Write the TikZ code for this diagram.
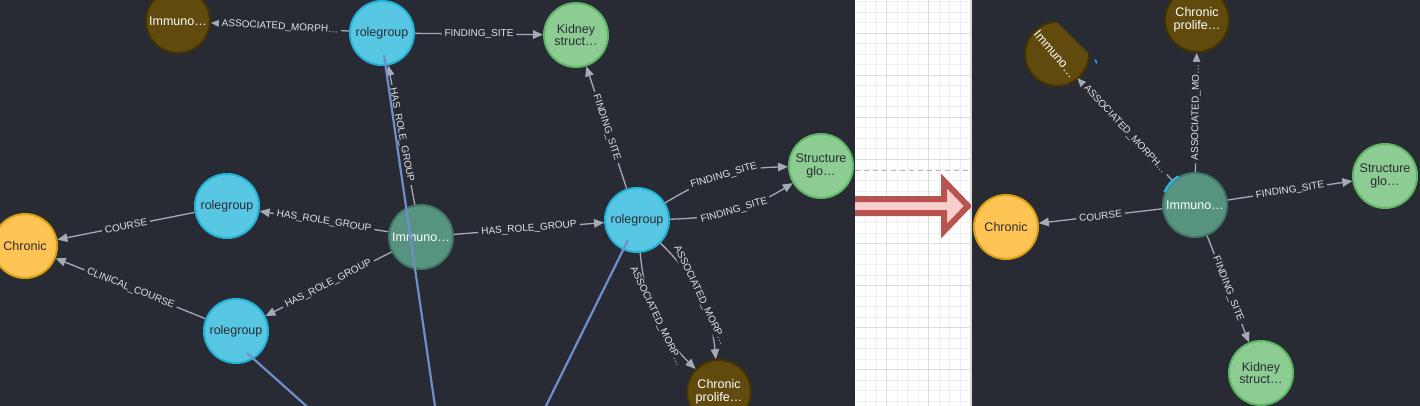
\documentclass[tikz,border=0pt]{standalone}
\usepackage{fontspec}
\setmainfont{Liberation Sans}
\usetikzlibrary{arrows.meta}
\definecolor{bg}{HTML}{282B33}
\definecolor{edgec}{HTML}{A5ABB6}
\definecolor{lblc}{HTML}{E2E3E6}
\definecolor{rgfill}{HTML}{57C7E3}
\definecolor{rgline}{HTML}{23B3D7}
\definecolor{grfill}{HTML}{8DCC93}
\definecolor{grline}{HTML}{5DB665}
\definecolor{imfill}{HTML}{569480}
\definecolor{imline}{HTML}{447666}
\definecolor{brfill}{HTML}{604A0E}
\definecolor{brline}{HTML}{423204}
\definecolor{ylfill}{HTML}{FFC454}
\definecolor{ylline}{HTML}{D7A013}
\definecolor{darktext}{HTML}{2A2C34}
\definecolor{bluec}{HTML}{6F8FCC}
\definecolor{arrowred}{HTML}{B85450}
\definecolor{arrowpink}{HTML}{F8CECC}
\definecolor{gminorc}{HTML}{EFEFEF}
\definecolor{gmajorc}{HTML}{DCDCDC}
\definecolor{dashc}{HTML}{B8B8B8}
\definecolor{selc}{HTML}{2EB4E0}
\begin{document}
\begin{tikzpicture}[x=1pt,y=1pt,
  nd/.style={circle, minimum size=64pt, inner sep=0pt, line width=2pt, align=center, font=\fontsize{12.5}{12.5}\selectfont},
  rgnode/.style={nd, fill=rgfill, draw=rgline, text=darktext},
  grnode/.style={nd, fill=grfill, draw=grline, text=darktext},
  imnode/.style={nd, fill=imfill, draw=imline, text=white},
  brnode/.style={nd, fill=brfill, draw=brline, text=white},
  ylnode/.style={nd, fill=ylfill, draw=ylline, text=darktext},
  rel/.style={draw=edgec, line width=1.3pt, -{Triangle[length=10pt,width=8.5pt]}},
  lbl/.style={sloped, fill=bg, inner xsep=3pt, inner ysep=1pt, text=lblc, font=\fontsize{10}{10}\selectfont},
  blueln/.style={draw=bluec, line width=2.2pt},
  gminor/.style={draw=gminorc, line width=0.6pt},
  gmajor/.style={draw=gmajorc, line width=1pt},
  dashline/.style={draw=dashc, line width=1pt, dash pattern=on 5pt off 4pt},
  blockarrow/.style={line width=6pt, draw=arrowred, fill=arrowpink, miter limit=10}
]
\useasboundingbox (0,0) rectangle (1420,-406);
\fill[bg] (0,0) rectangle (1420,-406);

% ---------- middle panel ----------
\fill[white] (855,0) rectangle (972,-406);
\begin{scope}
  \clip (855,0) rectangle (972,-406);
  \foreach \x in {865.5,876,...,970.5} \draw[gminor] (\x,0) -- (\x,-406);
  \foreach \y in {1.8,12.3,...,406} \draw[gminor] (855,-\y) -- (972,-\y);
  \foreach \x in {886.5,928.5,970.5} \draw[gmajor] (\x,0) -- (\x,-406);
  \foreach \y in {33.3,75.3,...,369.3} \draw[gmajor] (855,-\y) -- (972,-\y);
  \draw[dashline] (855,-171) -- (972,-171);
  \draw[blockarrow] (830,-199) -- (944,-199) -- (944,-181) -- (968,-206) -- (944,-231) -- (944,-213) -- (830,-213) -- cycle;
\end{scope}
\draw[draw=gmajorc, line width=1pt] (971.5,0) -- (971.5,-406);

% ---------- left panel ----------
\begin{scope}
  \clip (0,0) rectangle (855,-406);
  \node[brnode] (imL) at (178,-21) {Immuno…};
  \node[rgnode] (rgT) at (382,-33) {rolegroup};
  \node[grnode] (kidL) at (576,-35) {Kidney\\struct…};
  \node[grnode] (strL) at (821,-166) {Structure\\glo…};
  \node[rgnode] (rgM) at (227,-206) {rolegroup};
  \node[ylnode] (chrL) at (25,-246) {Chronic};
  \node[rgnode] (rgB) at (236,-331) {rolegroup};
  \node[imnode] (imG) at (421,-237) {Immuno…};
  \node[rgnode] (rgR) at (637,-220) {rolegroup};
  \node[brnode] (cpL) at (719,-392) {Chronic\\prolife…};

  \draw[rel] (rgT) -- node[lbl]{ASSOCIATED\_MORPH…} (imL);
  \draw[rel] (rgT) -- node[lbl]{FINDING\_SITE} (kidL);
  \draw[rel] (imG) -- node[lbl]{HAS\_ROLE\_GROUP} (rgT);
  \draw[rel] (imG) -- node[lbl]{HAS\_ROLE\_GROUP} (rgM);
  \draw[rel] (imG) -- node[lbl]{HAS\_ROLE\_GROUP} (rgB);
  \draw[rel] (imG) -- node[lbl]{HAS\_ROLE\_GROUP} (rgR);
  \draw[rel] (rgM) -- node[lbl]{COURSE} (chrL);
  \draw[rel] (rgB) -- node[lbl]{CLINICAL\_COURSE} (chrL);
  \draw[rel] (rgR) -- node[lbl]{FINDING\_SITE} (kidL);
  \draw[rel] (rgR) to[bend left=15] node[lbl]{FINDING\_SITE} (strL);
  \draw[rel] (rgR) to[bend right=15] node[lbl]{FINDING\_SITE} (strL);
  \draw[rel] (rgR) to[bend left=20] node[lbl]{ASSOCIATED\_MORP…} (cpL);
  \draw[rel] (rgR) to[bend right=20] node[lbl]{ASSOCIATED\_MORP…} (cpL);

  \coordinate (b1s) at (384,-55);
  \coordinate (b1e) at (437,-420);
  \coordinate (b2s) at (247,-353);
  \coordinate (b2e) at (322,-420);
  \coordinate (b3s) at (628,-240);
  \coordinate (b3e) at (539,-420);
  \draw[blueln] (b1s) -- (b1e);
  \draw[blueln] (b2s) -- (b2e);
  \draw[blueln] (b3s) -- (b3e);
\end{scope}

% ---------- right panel ----------
\begin{scope}
  \clip (972,0) rectangle (1420,-406);
  \fill[brfill] (1057,-22) arc[start angle=90, end angle=360, radius=32] -- cycle;
  \draw[brline, line width=2pt] (1057,-22) arc[start angle=90, end angle=360, radius=32];
  \node[nd, text=white, rotate=-50] (imR) at (1055,-54) {Immuno…};
  \node[brnode] (cpR) at (1197,-20) {Chronic\\prolife…};
  \node[imnode] (igR) at (1195,-205) {Immuno…};
  \node[grnode] (strR) at (1385,-176) {Structure\\glo…};
  \node[ylnode] (chrR) at (1006,-227) {Chronic};
  \node[grnode] (kidR) at (1261,-373) {Kidney\\struct…};

  \draw[rel] (igR) -- node[lbl]{ASSOCIATED\_MORPH…} (imR);
  \draw[rel] (igR) -- node[lbl]{ASSOCIATED\_MO…} (cpR);
  \draw[rel] (igR) -- node[lbl]{FINDING\_SITE} (strR);
  \draw[rel] (igR) -- node[lbl]{COURSE} (chrR);
  \draw[rel] (igR) -- node[lbl]{FINDING\_SITE} (kidR);

  \draw[selc, line width=2.5pt] (1195,-205) ++(120:33) arc[start angle=120, end angle=157, radius=33];
  \draw[selc, line width=1.5pt, line cap=round] (1095.5,-60) -- (1096.5,-63);
\end{scope}
\end{tikzpicture}
\end{document}
